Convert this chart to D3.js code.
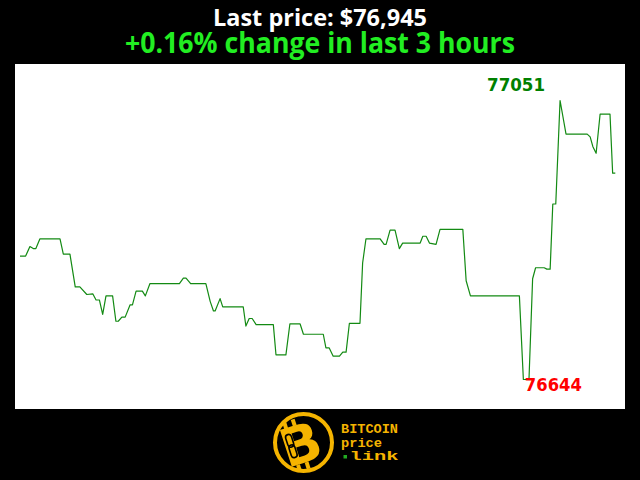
<!DOCTYPE html>
<html>
<head>
<meta charset="utf-8">
<script src="https://cdn.jsdelivr.net/npm/d3@7"></script>
<style>
  html, body { margin: 0; padding: 0; background: #000; }
  svg { display: block; }
</style>
</head>
<body>
<svg id="chart" width="640" height="480"></svg>
<script>
// ---- data (minutes from start of 3-hour window, BTC price in USD) ----
const minutes = [0, 1.7, 3.0, 4.0, 4.8, 6.0, 12.1, 13.1, 15.1, 16.7, 18.1, 20.2, 22.0, 23.0, 24.0, 25.0,
  26.0, 28.0, 29.0, 29.7, 30.8, 31.8, 33.3, 34.0, 35.1, 37.0, 37.9, 39.3, 48.2, 49.4, 50.2, 51.6,
  56.2, 57.5, 58.5, 59.0, 60.5, 61.3, 67.5, 68.3, 69.3, 70.2, 71.4, 76.6, 77.4, 80.4, 81.6, 84.7,
  85.7, 91.7, 92.5, 93.5, 94.7, 96.6, 97.6, 98.6, 99.6, 102.8, 103.6, 104.6, 108.9, 110.1, 110.7,
  111.9, 113.4, 114.7, 115.7, 121.0, 121.8, 122.8, 123.8, 125.8, 127.0, 133.9, 134.9, 136.2, 151.0,
  152.2, 153.9, 155.0, 155.9, 158.5, 159.3, 160.3, 161.1, 162.0, 163.3, 165.1, 171.5, 172.4, 173.2,
  174.2, 175.4, 178.4, 179.2, 180];
const prices = [76824, 76824, 76838, 76835, 76835, 76849, 76849, 76827, 76827, 76779, 76779, 76768, 76769, 76760, 76760, 76739,
  76766, 76766, 76729, 76729, 76735, 76735, 76753, 76753, 76773, 76773, 76766, 76784, 76784, 76792, 76792, 76784,
  76784, 76758, 76744, 76744, 76762, 76750, 76750, 76722, 76733, 76733, 76724, 76724, 76680, 76680, 76725, 76725,
  76710, 76710, 76690, 76690, 76678, 76678, 76684, 76684, 76726, 76726, 76814, 76849, 76849, 76841, 76841,
  76862, 76862, 76835, 76843, 76843, 76853, 76853, 76843, 76841, 76863, 76863, 76788, 76766, 76766,
  76644, 76644, 76791, 76807, 76807, 76805, 76805, 76900, 76900, 77051, 77002, 77002, 76998, 76984,
  76974, 77031, 77031, 76945, 76945];
const titleLines = ["Last price: $76,945", "+0.16% change in last 3 hours"];
const logoWords = ["BITCOIN", "price", "link"];

const svg = d3.select("#chart");

// background
svg.append("rect").attr("x", 0).attr("y", 0).attr("width", 640).attr("height", 480).attr("fill", "#000");

// titles
svg.append("text").attr("x", 320).attr("y", 25.5).attr("text-anchor", "middle")
  .attr("font-family", "'Open Sans', sans-serif").attr("font-weight", 700).attr("font-size", 24)
  .attr("fill", "#ffffff").attr("textLength", 214).attr("lengthAdjust", "spacingAndGlyphs")
  .text(titleLines[0]);
svg.append("text").attr("x", 320).attr("y", 52.5).attr("text-anchor", "middle")
  .attr("font-family", "'Open Sans', sans-serif").attr("font-weight", 700).attr("font-size", 28.5)
  .attr("fill", "#22ee22").attr("textLength", 390).attr("lengthAdjust", "spacingAndGlyphs")
  .text(titleLines[1]);

// plot area
svg.append("rect").attr("x", 15).attr("y", 64).attr("width", 610).attr("height", 345).attr("fill", "#fff");

const data = minutes.map((m, i) => ({ m, p: prices[i] }));
const minP = d3.min(prices), maxP = d3.max(prices);
const x = d3.scaleLinear().domain([0, 180]).range([20, 615.3]);
const y = d3.scaleLinear().domain([minP, maxP]).range([379.5, 100.5]);

const line = d3.line().x(d => x(d.m)).y(d => y(d.p));
svg.append("path").datum(data).attr("d", line)
  .attr("fill", "none").attr("stroke", "#138a13").attr("stroke-width", 1.2)
  .attr("stroke-linejoin", "round");

const maxD = data.find(d => d.p === maxP);
const minD = data.find(d => d.p === minP);
svg.append("text").attr("x", x(maxD.m) - 15).attr("y", y(maxD.p) - 9.5)
  .attr("text-anchor", "end").attr("font-family", "'DejaVu Sans', sans-serif")
  .attr("font-weight", 700).attr("font-size", 18).attr("fill", "#008000")
  .attr("textLength", 58).attr("lengthAdjust", "spacingAndGlyphs").text(maxP);
svg.append("text").attr("x", x(minD.m) + 1.5).attr("y", y(minD.p) + 11.5)
  .attr("text-anchor", "start").attr("font-family", "'DejaVu Sans', sans-serif")
  .attr("font-weight", 700).attr("font-size", 18).attr("fill", "#ff0000")
  .attr("textLength", 57).attr("lengthAdjust", "spacingAndGlyphs").text(minP);

// logo
const gold = "#f5b400";
const logo = svg.append("g");
logo.append("circle").attr("cx", 303.5).attr("cy", 442.5).attr("r", 28.5)
  .attr("fill", "#000").attr("stroke", gold).attr("stroke-width", 4);
const bg = logo.append("g").attr("transform", "translate(301,445) rotate(-18)");
bg.append("text").attr("x", 0).attr("y", 18).attr("text-anchor", "middle")
  .attr("font-family", "'DejaVu Sans', sans-serif").attr("font-weight", 900)
  .attr("font-size", 53).attr("fill", gold).text("B");
[-9, 0].forEach(dx => {
  bg.append("rect").attr("x", dx - 2).attr("y", -27).attr("width", 4).attr("height", 7).attr("fill", gold);
  bg.append("rect").attr("x", dx - 2).attr("y", 18).attr("width", 4).attr("height", 7).attr("fill", gold);
});
// chain link detail on stem
bg.append("rect").attr("x", -12.5).attr("y", -14).attr("width", 6).attr("height", 13).attr("rx", 3)
  .attr("fill", "none").attr("stroke", "#000").attr("stroke-width", 1.6);
bg.append("rect").attr("x", -12.5).attr("y", -3).attr("width", 6).attr("height", 13).attr("rx", 3)
  .attr("fill", "none").attr("stroke", "#000").attr("stroke-width", 1.6);

const mono = "'Liberation Mono', 'DejaVu Sans Mono', monospace";
logo.append("text").attr("x", 341).attr("y", 433).attr("font-family", mono).attr("font-weight", 700)
  .attr("font-size", 13.5).attr("fill", gold).attr("textLength", 57).attr("lengthAdjust", "spacingAndGlyphs")
  .text(logoWords[0]);
logo.append("text").attr("x", 341).attr("y", 446.5).attr("font-family", mono).attr("font-weight", 700)
  .attr("font-size", 13.5).attr("fill", gold).attr("textLength", 41).attr("lengthAdjust", "spacingAndGlyphs")
  .text(logoWords[1]);
logo.append("rect").attr("x", 343.5).attr("y", 455).attr("width", 3.5).attr("height", 3.5).attr("fill", "#22aa22");
logo.append("text").attr("x", 349.5).attr("y", 460).attr("font-family", mono).attr("font-weight", 700)
  .attr("font-size", 13.5).attr("fill", gold).attr("textLength", 49).attr("lengthAdjust", "spacingAndGlyphs")
  .text(logoWords[2]);
</script>
</body>
</html>
